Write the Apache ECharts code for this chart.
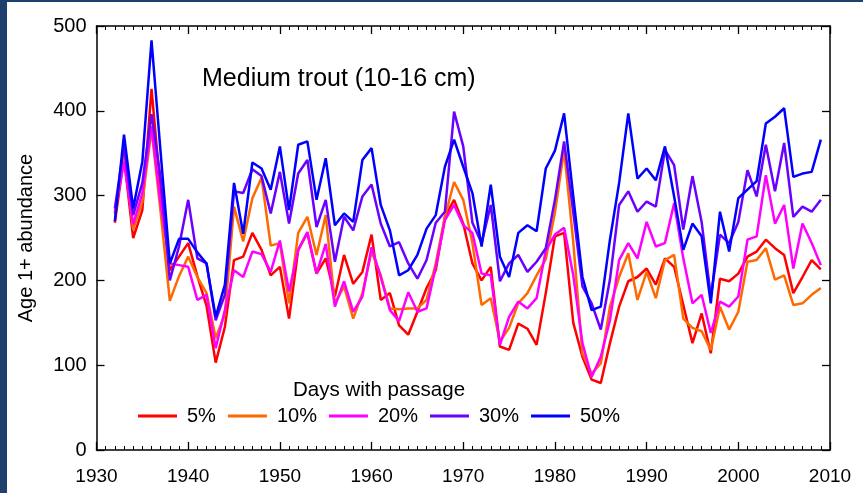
<!DOCTYPE html>
<html>
<head>
<meta charset="utf-8">
<script src="https://cdn.jsdelivr.net/npm/echarts@6/dist/echarts.min.js"></script>
<style>
html,body{margin:0;padding:0;width:863px;height:493px;background:#1f3f6d;overflow:hidden;}
#panel{position:absolute;left:7px;top:2px;width:856px;height:491px;background:#ffffff;}
#chart{position:absolute;left:0;top:0;width:863px;height:493px;}
</style>
</head>
<body>
<div id="panel"></div>
<div id="chart"></div>
<script>
const titleText = 'Medium trout (10-16 cm)';
const yAxisName = 'Age 1+ abundance';
const legendTitle = 'Days with passage';
const seriesNames = ['5%', '10%', '20%', '30%', '50%'];
const seriesColors = ['#ff0000', '#ff6a00', '#ff00ff', '#6a00ff', '#0000ff'];
const startYear = 1932;
const years = Array.from({length: 78}, (_, i) => startYear + i);

const pct5 = [268,345,250,283,426,305,212,228,244,205,170,103,145,224,228,256,236,206,216,155,
  236,256,208,226,181,230,196,210,254,177,185,147,136,163,191,212,275,295,267,220,
  200,216,122,118,149,143,124,185,252,256,150,110,83,79,126,169,199,204,214,195,
  226,216,171,126,161,114,202,199,208,228,234,248,238,230,185,204,224,213];
const pct10 = [278,352,260,293,378,280,176,205,228,204,185,132,160,287,246,297,321,241,244,173,
  256,275,230,277,173,193,155,185,234,206,167,166,167,167,177,220,275,316,295,244,
  171,179,128,144,173,185,206,225,280,354,245,114,90,102,169,204,232,177,210,179,
  224,230,155,144,140,118,169,142,163,222,224,238,201,206,171,173,183,191];
const pct20 = [280,340,266,303,382,290,220,218,216,177,183,120,165,212,204,234,231,210,247,187,
  236,257,208,243,169,199,163,181,239,204,165,152,186,163,167,216,271,289,265,256,
  208,206,124,157,175,167,179,235,254,262,206,126,86,110,153,224,244,226,269,240,
  244,291,226,173,183,138,175,169,181,248,252,324,267,289,214,267,244,218];
const pct30 = [285,358,277,315,396,320,200,240,295,226,220,153,183,305,303,331,323,279,328,267,
  326,342,263,295,222,275,259,299,313,267,240,245,220,202,224,268,281,399,358,268,
  244,289,199,220,230,210,222,238,295,364,280,193,173,142,201,289,305,281,293,287,
  354,336,260,323,269,181,254,244,269,330,299,360,305,362,275,287,281,295];
const pct50 = [270,372,285,340,483,350,220,249,249,233,220,157,195,315,255,339,332,307,358,283,
  360,364,295,344,265,279,269,342,356,289,259,206,212,230,261,277,334,366,334,303,
  240,313,228,204,256,265,258,332,353,397,299,204,165,169,248,315,397,320,332,318,
  358,299,236,267,252,173,281,234,297,307,317,385,393,403,322,326,328,366];

const xTicks = {min: 1930, max: 2010, interval: 10};
const yTicks = {min: 0, max: 500, interval: 100};

const allValues = [pct5, pct10, pct20, pct30, pct50];
const FONT = 'Liberation Sans, Arial, sans-serif';

const chart = echarts.init(document.getElementById('chart'), null, {renderer: 'canvas'});

const axisLineStyle = {color: '#000', width: 1.5};
function xAx(pos, showLabel) {
  return {
    type: 'value', position: pos, min: xTicks.min, max: xTicks.max, interval: xTicks.interval,
    axisLine: {show: true, onZero: false, lineStyle: axisLineStyle},
    axisTick: {show: true, inside: true, length: 8, lineStyle: {color: '#000', width: 1.3}},
    minorTick: {show: true, splitNumber: 10, length: 4, lineStyle: {color: '#000', width: 1}},
    splitLine: {show: false}, minorSplitLine: {show: false},
    axisLabel: {show: showLabel, color: '#000', fontSize: 19, fontFamily: FONT, margin: 17,
      showMinLabel: true, showMaxLabel: true, formatter: v => String(v)}
  };
}
function yAx(pos, showLabel) {
  const a = {
    type: 'value', position: pos, min: yTicks.min, max: yTicks.max, interval: yTicks.interval,
    axisLine: {show: true, onZero: false, lineStyle: axisLineStyle},
    axisTick: {show: true, inside: true, length: 8, lineStyle: {color: '#000', width: 1.3}},
    splitLine: {show: false},
    axisLabel: {show: showLabel, color: '#000', fontSize: 20, fontFamily: FONT, margin: 10}
  };
  if (showLabel) {
    a.name = yAxisName;
    a.nameLocation = 'middle';
    a.nameRotate = 90;
    a.nameGap = 60;
    a.nameTextStyle = {color: '#000', fontSize: 20, fontFamily: FONT};
  }
  return a;
}

const series = seriesNames.map((name, k) => ({
  name: name,
  type: 'line',
  xAxisIndex: 0, yAxisIndex: 0,
  symbol: 'none',
  animation: false,
  lineStyle: {color: seriesColors[k], width: 2.5},
  itemStyle: {color: seriesColors[k]},
  data: years.map((y, i) => [y, allValues[k][i]])
}));

chart.setOption({
  backgroundColor: 'transparent',
  animation: false,
  title: {
    text: titleText, left: 197, top: 62,
    textStyle: {color: '#000', fontSize: 25, fontWeight: 'normal', fontFamily: FONT}
  },
  graphic: [{
    type: 'text', left: 293, top: 380,
    style: {text: legendTitle, fill: '#000', fontSize: 20.5, fontFamily: FONT}
  }],
  legend: {
    data: seriesNames.map(n => ({name: n, icon: 'rect'})), left: 138, top: 406, padding: 0,
    orient: 'horizontal',
    itemWidth: 39, itemHeight: 3, itemGap: 12,
    textStyle: {color: '#000', fontSize: 20, fontFamily: FONT, padding: [0, 0, 0, 5]}
  },
  grid: {left: 96.5, right: 33, top: 26, bottom: 43, containLabel: false},
  xAxis: [xAx('bottom', true), xAx('top', false)],
  yAxis: [yAx('left', true), yAx('right', false)],
  series: series
});
</script>
</body>
</html>
